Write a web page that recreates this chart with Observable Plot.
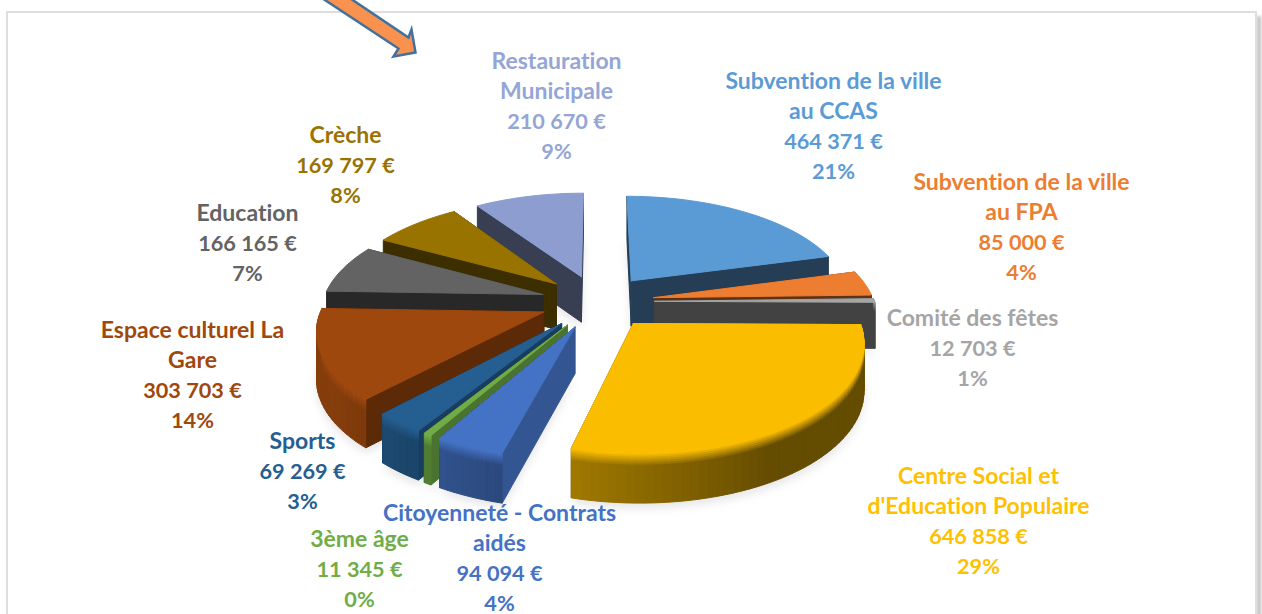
<!DOCTYPE html>
<html lang="fr">
<head>
<meta charset="utf-8">
<title>Répartition des dépenses</title>
<style>
html,body{margin:0;padding:0;background:#fff;overflow:hidden}
svg{display:block}
svg text{font-variant-ligatures:none}
</style>
<script src="https://cdn.jsdelivr.net/npm/d3@7"></script>
<script src="https://cdn.jsdelivr.net/npm/@observablehq/plot@0.6"></script>
</head>
<body>
<div id="chart"></div>
<script>
// ---- chart values (clockwise from the top) ----
const names = ["Subvention de la ville\nau CCAS","Subvention de la ville\nau FPA","Comité des fêtes","Centre Social et\nd'Education Populaire","Citoyenneté - Contrats\naidés","3ème âge","Sports","Espace culturel La\nGare","Education","Crèche","Restauration\nMunicipale"];
const amounts = [464371,85000,12703,646858,94094,11345,69269,303703,166165,169797,210670];
const amountLabels = ["464 371 €","85 000 €","12 703 €","646 858 €","94 094 €","11 345 €","69 269 €","303 703 €","166 165 €","169 797 €","210 670 €"];
const percentLabels = ["21%","4%","1%","29%","4%","0%","3%","14%","7%","8%","9%"];
const colors = ["#5B9BD5","#ED7D31","#A5A5A5","#FBBD00","#4472C4","#70AD47","#255E91","#9E480E","#636363","#997300","#8D9DD0"];
const labelColors = ["#5B9BD5","#ED7D31","#A5A5A5","#FFC000","#4472C4","#70AD47","#255E91","#9E480E","#636363","#997300","#94A5D6"];

// ---- layout (separate from the values) ----
const labelCenterX = [833,1021,972,978,499,359,302,192,247,345,556];
const labelCenterY = [126.5,227.5,348.5,521.5,558.5,569.5,471.5,375.5,243.5,165.5,106.5];
const view = {cx:597, cy:301, R:220, B:103, k:0.15, h:46, explode:0.26};
const arrowOutline = [[313,-8],[398,48],[393,56],[415,52],[411,29],[408,37],[341,-8],[313,-8]];

// ---- 3D pie built from the values ----
const project = (X,Y,Z) => {
  const s = 1/(1+view.k*Y);
  return [view.cx+view.R*X*s, view.cy-view.B*Y*s+Z*view.h*Math.pow(s,.4)];
};
const total = d3.sum(amounts);
let acc = 0;
const slices = amounts.map((v,i)=>{
  const a0 = acc/total*2*Math.PI; acc += v;
  const a1 = acc/total*2*Math.PI;
  const mid = (a0+a1)/2;
  return {i,a0,a1,mid,ox:view.explode*Math.sin(mid),oy:view.explode*Math.cos(mid),color:colors[i]};
});
const shade = (c,f)=>{const r=d3.rgb(c);return d3.rgb(r.r*f,r.g*f,r.b*f).formatHex();};
const deg = a=>a*180/Math.PI;
const cutLight = n => Math.max(.4,Math.min(.78,.75-(n-105)*.0058));
const rimLight = t => Math.max(.4,Math.min(.85,.4+(t-150)*.0053));
const polys = [], shadow = [];
let pid = 0;
const addPoly = (target,pts,fill)=>{pid++;pts.concat([pts[0]]).forEach(p=>target.push({id:pid,x:p[0],y:p[1],fill}));};
const bands = [0,.04,.08,.12,.16,.2,.24,1];

slices.slice().sort((a,b)=>Math.cos(b.mid)-Math.cos(a.mid)).forEach(s=>{
  const n = Math.max(2,Math.ceil((s.a1-s.a0)/(Math.PI/90)));
  const ang = d3.range(n+1).map(j=>s.a0+(s.a1-s.a0)*j/n);
  const rim = (a,z)=>project(s.ox+Math.sin(a),s.oy+Math.cos(a),z);
  const apex = z=>project(s.ox,s.oy,z);
  // soft shadow under the slice
  const under = [apex(1)].concat(ang.map(a=>rim(a,1))).map(p=>[p[0],p[1]+5]);
  addPoly(shadow,under,"#000");
  // radial cut faces: back one first
  const faces = [
    {a:s.a0,n:deg(s.a0)-90+(deg(s.a0)<90?360:0)},
    {a:s.a1,n:deg(s.a1)+90}
  ];
  faces.sort((f,g)=>Math.cos(g.a)-Math.cos(f.a));
  faces.forEach(f=>{
    addPoly(polys,[apex(0),rim(f.a,0),rim(f.a,1),apex(1)],shade(s.color,cutLight(f.n)));
  });
  // outer wall (front-facing part only), in small strips, with a bevel at the top
  for(let j=0;j<n;j++){
    const mida = (ang[j]+ang[j+1])/2;
    if(Math.cos(mida)>0.02) continue;
    const wall = shade(s.color,rimLight(deg(mida)));
    for(let b=0;b<bands.length-1;b++){
      const u = Math.min(1,bands[b]/.24);
      const col = d3.interpolateRgb(s.color,wall)(u);
      addPoly(polys,[rim(ang[j],bands[b]),rim(ang[j+1],bands[b]),rim(ang[j+1],bands[b+1]),rim(ang[j],bands[b+1])],d3.color(col).formatHex());
    }
  }
  // top surface
  addPoly(polys,[apex(0)].concat(ang.map(a=>rim(a,0))),s.color);
});

// one row per text line
const nameLines = [], valueLines = [];
names.forEach((nm,i)=>{
  const parts = nm.split("\n");
  const all = parts.length+2;
  const top = labelCenterY[i]-(all-1)*15;
  parts.forEach((t,j)=>nameLines.push({text:t,x:labelCenterX[i],y:top+j*30,color:labelColors[i]}));
  valueLines.push({text:amountLabels[i],x:labelCenterX[i],y:top+parts.length*30,color:labelColors[i]});
  valueLines.push({text:percentLabels[i],x:labelCenterX[i],y:top+(parts.length+1)*30,color:labelColors[i]});
});

const card = [{x1:7,x2:1256,y1:12,y2:640}];
const cardShadow = [{x1:1257,x2:1261,y1:16,y2:640}];
const arrowRows = arrowOutline.map(p=>({x:p[0],y:p[1]}));
const textStyle = {x:"x",y:"y",text:"text",fill:"color",fontFamily:"Lato",fontWeight:700,lineAnchor:"middle",textAnchor:"middle"};

const chart = Plot.plot({
  width:1262,height:614,margin:0,
  x:{domain:[0,1262],range:[0,1262],axis:null},
  y:{domain:[0,614],range:[0,614],axis:null},
  color:{type:"identity"},
  style:{background:"#fff",overflow:"hidden"},
  marks:[
    Plot.rect(cardShadow,{x1:"x1",x2:"x2",y1:"y1",y2:"y2",fill:"#aaa",fillOpacity:.75,imageFilter:"blur(1.5px)"}),
    Plot.rect(card,{x1:"x1",x2:"x2",y1:"y1",y2:"y2",fill:"#fff",stroke:"#dedede",strokeWidth:2}),
    Plot.line(shadow,{x:"x",y:"y",z:"id",fill:"#000",fillOpacity:.1,stroke:"none",imageFilter:"blur(5px)"}),
    Plot.line(polys,{x:"x",y:"y",z:"id",fill:"fill",stroke:"fill",strokeWidth:1,strokeLinejoin:"round"}),
    Plot.line(arrowRows,{x:"x",y:"y",fill:"#F9914F",stroke:"#41719C",strokeWidth:2.5,strokeLinejoin:"miter",strokeMiterlimit:6}),
    Plot.text(nameLines,{...textStyle,fontSize:23}),
    Plot.text(valueLines,{...textStyle,fontSize:21.7})
  ]
});
document.getElementById("chart").append(chart);
</script>
</body>
</html>
